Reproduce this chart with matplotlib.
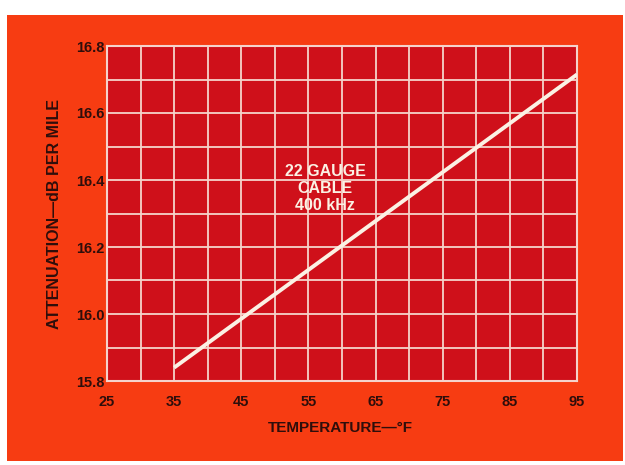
import matplotlib
matplotlib.use("Agg")
import matplotlib.pyplot as plt
from matplotlib.patches import Rectangle
import numpy as np

# Data
temperature_f = [35, 95]
attenuation_db = [15.84, 16.715]
x_ticks = [25, 35, 45, 55, 65, 75, 85, 95]
y_ticks = [15.8, 16.0, 16.2, 16.4, 16.6, 16.8]
x_label = "TEMPERATURE—°F"
y_label = "ATTENUATION—dB PER MILE"
annotation = "22 GAUGE\nCABLE\n400 kHz"

BG = "#f73c12"
PLOT = "#cf101a"
GRID = "#f5d3cb"
TEXT = "#2e0e0b"
LINE = "#fbf1e4"
FONT = "Liberation Sans"

fig = plt.figure(figsize=(6.25, 4.65), dpi=100, facecolor="white")
fig.patches.append(Rectangle((7/625, 4/465), 616/625, (465-4-15)/465,
                             transform=fig.transFigure, facecolor=BG,
                             edgecolor="none", zorder=-10))

ax = fig.add_axes([107/625, (465-381)/465, (577-107)/625, (381-46)/465])
ax.set_zorder(1)
ax.set_facecolor(PLOT)
ax.set_xlim(25, 95)
ax.set_ylim(15.8, 16.8)

ax.set_xticks(x_ticks)
ax.set_xticklabels([str(v) for v in x_ticks])
ax.set_yticks(y_ticks)
ax.set_yticklabels([f"{v:.1f}" for v in y_ticks])
ax.set_xticks(np.arange(25, 96, 5), minor=True)
ax.set_yticks(np.arange(15.8, 16.81, 0.1), minor=True)
ax.grid(which="both", color=GRID, linewidth=1.3, zorder=1)
ax.set_axisbelow(True)
ax.tick_params(which="both", length=0)
ax.tick_params(axis="x", pad=10, labelsize=10.5, labelcolor=TEXT)
ax.tick_params(axis="y", pad=2, labelsize=10.5, labelcolor=TEXT)
for lab in ax.get_xticklabels() + ax.get_yticklabels():
    lab.set_fontfamily(FONT)
    lab.set_fontweight("bold")

for s in ax.spines.values():
    s.set_color(GRID)
    s.set_linewidth(1.5)

ax.plot(temperature_f, attenuation_db, color=LINE, linewidth=2.8,
        solid_capstyle="butt", zorder=3)

ax.text(57.5, 16.375, annotation, ha="center", va="center", color=LINE,
        fontsize=11.5, fontweight="bold", family=FONT, linespacing=1.15,
        zorder=4)

fig.text(340/625, 1 - 428/465, x_label, ha="center", va="center",
         color=TEXT, fontsize=11, fontweight="bold", family=FONT)
fig.text(55/625, 1 - 214/465, y_label, ha="center", va="center",
         rotation=90, color=TEXT, fontsize=11.5, fontweight="bold", family=FONT)

fig.savefig("out.png", dpi=100, facecolor="white")
